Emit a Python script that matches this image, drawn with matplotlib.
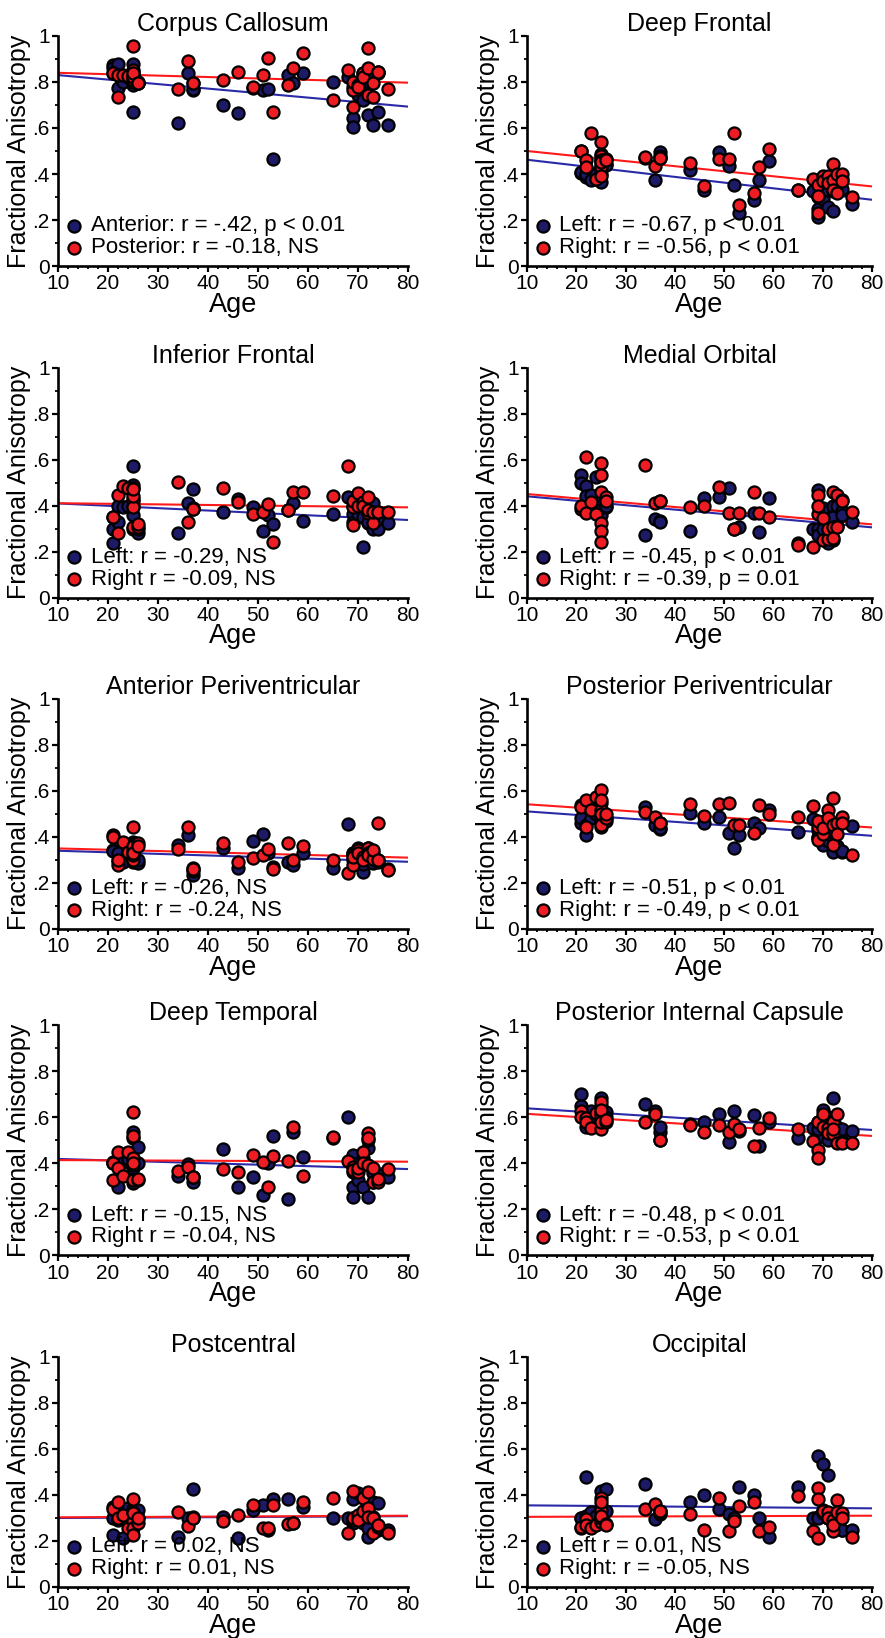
import matplotlib.pyplot as plt
from matplotlib.ticker import MultipleLocator

plt.rcParams['font.family'] = ['Liberation Sans', 'DejaVu Sans']

# subject ages (shared by every region)
ages = [21, 21, 22, 22, 23, 24, 25, 25, 25, 25, 25, 25, 26, 26,
        34, 36, 37, 37,
        43, 46, 49, 51, 52, 53, 56, 57, 59,
        65, 68, 69, 69, 69, 70, 70, 71, 71, 72, 72, 72, 73, 73, 74, 74, 76]

cc_ant = [.874, .86, .88, .773, .80, .82, .88, .787, .67, .845, .80, .83, .794, .80,
          .62, .838, .765, .77,
          .70, .664, .775, .765, .768, .464, .83, .794, .84,
          .80, .823, .642, .606, .78, .743, .80, .72, .84, .656, .80, .75, .613, .83, .671, .84, .613]
cc_post = [.84, .84, .733, .83, .83, .826, .958, .826, .85, .81, .82, .84, .794, .794,
           .768, .893, .794, .794,
           .81, .845, .777, .83, .903, .671, .787, .86, .925,
           .722, .852, .693, .765, .80, .787, .78, .838, .82, .946, .86, .743, .794, .736, .845, .845, .768]

df_left = [.404, .41, .387, .40, .372, .40, .365, .445, .488, .46, .42, .40, .445, .44,
           .47, .375, .496, .48,
           .419, .329, .496, .433, .354, .23, .285, .375, .455,
           .329, .326, .213, .249, .30, .293, .38, .256, .33, .239, .326, .37, .372, .35, .336, .38, .271]
df_right = [.50, .50, .461, .43, .58, .38, .537, .48, .43, .393, .46, .45, .465, .46,
            .472, .433, .47, .47,
            .447, .347, .465, .465, .577, .267, .316, .43, .509,
            .331, .38, .35, .306, .231, .393, .37, .39, .36, .444, .372, .33, .316, .40, .40, .37, .30]

if_left = [.236, .30, .33, .40, .395, .40, .572, .359, .489, .43, .40, .30, .279, .30,
           .279, .409, .47, .39,
           .373, .427, .395, .29, .36, .32, .38, .409, .334,
           .363, .436, .363, .40, .33, .363, .40, .218, .35, .322, .40, .33, .409, .30, .296, .34, .322]
if_right = [.351, .351, .446, .282, .485, .475, .475, .421, .308, .395, .44, .47, .308, .32,
            .504, .327, .383, .383,
            .475, .417, .363, .373, .406, .243, .38, .46, .457,
            .441, .572, .315, .395, .42, .456, .40, .417, .40, .366, .436, .38, .322, .373, .373, .37, .37]

mo_left = [.533, .50, .485, .44, .446, .522, .395, .373, .42, .40, .38, .36, .395, .40,
           .272, .34, .334, .33,
           .29, .431, .438, .477, .30, .305, .369, .286, .431,
           .235, .296, .467, .296, .27, .388, .30, .238, .322, .25, .40, .35, .31, .40, .377, .36, .33]
mo_right = [.383, .40, .612, .366, .417, .362, .583, .533, .46, .322, .29, .242, .438, .42,
            .576, .409, .421, .42,
            .395, .398, .479, .369, .30, .366, .46, .366, .348,
            .228, .218, .446, .362, .40, .344, .25, .253, .30, .46, .308, .26, .446, .308, .424, .42, .373]

ap_left = [.342, .34, .296, .328, .291, .33, .378, .30, .35, .32, .37, .29, .284, .30,
           .364, .407, .233, .25,
           .349, .262, .383, .412, .33, .27, .291, .277, .33,
           .262, .455, .328, .30, .33, .349, .31, .248, .28, .349, .30, .32, .284, .33, .30, .29, .26]
ap_right = [.407, .40, .277, .30, .378, .335, .441, .342, .30, .32, .36, .33, .371, .36,
            .345, .443, .262, .26,
            .374, .291, .306, .32, .345, .258, .371, .30, .359,
            .30, .241, .277, .32, .31, .342, .33, .313, .30, .349, .33, .32, .301, .342, .461, .30, .255]

pp_left = [.461, .48, .407, .45, .48, .50, .487, .443, .50, .52, .47, .46, .48, .47,
           .528, .451, .432, .44,
           .501, .458, .484, .417, .349, .407, .461, .436, .516,
           .422, .475, .393, .43, .40, .364, .42, .38, .45, .335, .40, .42, .36, .45, .335, .34, .446]
pp_right = [.538, .53, .443, .559, .516, .571, .603, .545, .516, .451, .56, .50, .48, .50,
            .509, .487, .461, .46,
            .542, .49, .542, .548, .451, .451, .417, .538, .499,
            .487, .533, .443, .386, .47, .412, .44, .516, .48, .567, .364, .45, .458, .412, .487, .46, .32]

dt_left = [.407, .40, .299, .40, .407, .42, .538, .509, .313, .42, .40, .38, .472, .40,
           .346, .396, .32, .34,
           .462, .296, .342, .262, .40, .52, .245, .538, .429,
           .51, .603, .436, .299, .252, .328, .40, .422, .299, .468, .252, .50, .36, .32, .33, .35, .342]
dt_right = [.328, .40, .451, .378, .345, .451, .622, .52, .425, .393, .328, .40, .328, .33,
            .368, .386, .342, .34,
            .374, .364, .436, .407, .296, .433, .41, .557, .346,
            .516, .412, .386, .364, .37, .364, .38, .451, .40, .53, .393, .51, .378, .32, .32, .33, .374]

pic_left = [.70, .65, .559, .60, .628, .581, .683, .622, .60, .58, .65, .60, .625, .60,
            .657, .628, .538, .56,
            .57, .581, .613, .491, .628, .541, .61, .477, .58,
            .512, .552, .516, .58, .55, .632, .58, .501, .60, .686, .593, .55, .56, .52, .53, .55, .541]
pic_right = [.628, .60, .596, .58, .555, .617, .668, .617, .549, .60, .63, .58, .581, .59,
             .581, .613, .501, .50,
             .567, .535, .567, .535, .57, .549, .477, .555, .596,
             .549, .497, .578, .458, .425, .613, .56, .555, .53, .581, .526, .55, .613, .487, .494, .49, .487]

pc_left = [.226, .30, .291, .30, .214, .342, .328, .30, .34, .30, .32, .28, .335, .30,
           .219, .299, .425, .30,
           .306, .214, .335, .357, .248, .383, .383, .277, .349,
           .299, .30, .383, .30, .28, .407, .30, .277, .30, .219, .255, .33, .306, .37, .364, .25, .248]
pc_right = [.349, .34, .371, .30, .313, .255, .383, .328, .287, .258, .226, .32, .277, .30,
            .328, .267, .306, .30,
            .288, .313, .357, .258, .255, .357, .272, .277, .368,
            .388, .233, .417, .291, .30, .313, .29, .386, .33, .414, .342, .306, .233, .30, .262, .27, .233]

oc_left = [.30, .30, .48, .31, .328, .31, .417, .35, .30, .32, .29, .30, .426, .33,
           .446, .296, .316, .32,
           .371, .40, .339, .316, .30, .436, .40, .30, .219,
           .436, .299, .571, .306, .30, .533, .32, .487, .30, .30, .28, .30, .27, .30, .248, .25, .248]
oc_right = [.258, .26, .296, .27, .255, .27, .386, .335, .284, .30, .37, .31, .272, .27,
            .339, .359, .33, .33,
            .316, .248, .388, .243, .287, .354, .371, .243, .262,
            .397, .243, .432, .383, .214, .335, .33, .328, .30, .243, .291, .27, .378, .325, .32, .30, .219]

# regression lines: FA at age 10 and at age 80
fit_ages = [10, 80]
fit_left = [(.83, .693), (.462, .288), (.409, .337), (.44, .305), (.339, .291),
            (.51, .404), (.419, .375), (.639, .545), (.300, .308), (.355, .342)]
fit_right = [(.84, .797), (.50, .346), (.41, .392), (.45, .318), (.349, .309),
             (.541, .44), (.414, .407), (.615, .519), (.303, .310), (.305, .31)]

titles = ['Corpus Callosum', 'Deep Frontal', 'Inferior Frontal', 'Medial Orbital',
          'Anterior Periventricular', 'Posterior Periventricular', 'Deep Temporal',
          'Posterior Internal Capsule', 'Postcentral', 'Occipital']
labels_left = ['Anterior: r = -.42, p < 0.01', 'Left: r = -0.67, p < 0.01', 'Left: r = -0.29, NS',
               'Left: r = -0.45, p < 0.01', 'Left: r = -0.26, NS', 'Left: r = -0.51, p < 0.01',
               'Left: r = -0.15, NS', 'Left: r = -0.48, p < 0.01', 'Left: r = 0.02, NS',
               'Left r = 0.01, NS']
labels_right = ['Posterior: r = -0.18, NS', 'Right: r = -0.56, p < 0.01', 'Right r = -0.09, NS',
                'Right: r = -0.39, p = 0.01', 'Right: r = -0.24, NS', 'Right: r = -0.49, p < 0.01',
                'Right r = -0.04, NS', 'Right: r = -0.53, p < 0.01', 'Right: r = 0.01, NS',
                'Right: r = -0.05, NS']
yticks = [0, .2, .4, .6, .8, 1]
ytick_labels = ['0', '.2', '.4', '.6', '.8', '1']

left_vals = [cc_ant, df_left, if_left, mo_left, ap_left, pp_left, dt_left, pic_left, pc_left, oc_left]
right_vals = [cc_post, df_right, if_right, mo_right, ap_right, pp_right, dt_right, pic_right, pc_right, oc_right]

navy = '#1d1b68'
red = '#ee1d23'
W, H = 885, 1638
col_x = [58, 527]
col_w = [350, 345]
row_zero = [266, 597.5, 928.7, 1255.3, 1587]

fig = plt.figure(figsize=(W / 100, H / 100), dpi=100)
for i in range(10):
    r, c = divmod(i, 2)
    ax = fig.add_axes([col_x[c] / W, 1 - row_zero[r] / H, col_w[c] / W, 230 / H])
    ax.plot(fit_ages, fit_left[i], color='#2a2aa8', lw=1.5, zorder=2)
    ax.plot(fit_ages, fit_right[i], color='#ff1a1a', lw=1.5, zorder=2)
    ax.scatter(ages, left_vals[i], s=76, c=navy, edgecolors='black', linewidths=1.6,
               zorder=3, clip_on=False)
    ax.scatter(ages, right_vals[i], s=76, c=red, edgecolors='black', linewidths=1.6,
               zorder=4, clip_on=False)

    # legend drawn by hand
    for y, col, txt in [(0.175, navy, labels_left[i]), (0.08, red, labels_right[i])]:
        ax.scatter([0.046], [y], s=76, c=col, edgecolors='black', linewidths=1.6,
                   transform=ax.transAxes, zorder=5)
        ax.text(0.094, y, txt, transform=ax.transAxes, fontsize=16, va='center', zorder=6)

    ax.set_xlim(10, 80)
    ax.set_ylim(0, 1)
    ax.set_xticks(range(10, 81, 10))
    ax.xaxis.set_minor_locator(MultipleLocator(2))
    ax.set_yticks(yticks)
    ax.set_yticklabels(ytick_labels)
    ax.yaxis.set_minor_locator(MultipleLocator(0.1))
    for s in ['top', 'right']:
        ax.spines[s].set_visible(False)
    for s in ['left', 'bottom']:
        ax.spines[s].set_linewidth(1.9)
    ax.tick_params(which='major', length=4, width=1.6, labelsize=15, pad=2)
    ax.tick_params(which='minor', length=2.5, width=1.3)
    ax.set_title(titles[i], fontsize=18, pad=3)
    ax.set_xlabel('Age', fontsize=19.5, labelpad=-1)
    ax.set_ylabel('Fractional Anisotropy', fontsize=18, labelpad=1)

fig.savefig('out.png', dpi=100)
